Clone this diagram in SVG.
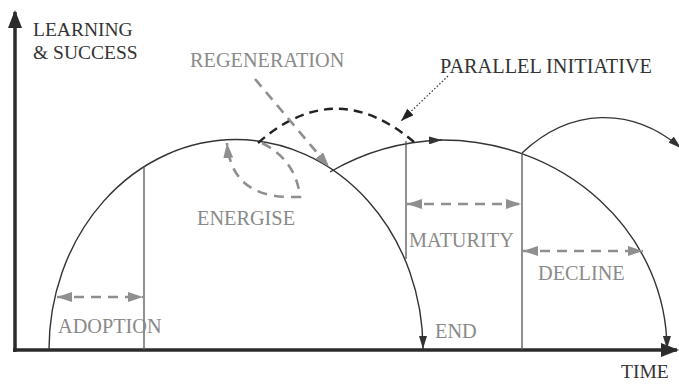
<svg xmlns="http://www.w3.org/2000/svg" width="679" height="384" viewBox="0 0 679 384">
<style>
text{font-family:"Liberation Serif","DejaVu Serif",serif;font-size:20.3px}
.ax{font-size:19.5px}
.dk{fill:#333}
.gy{fill:#8a8a8a}
.axis{stroke:#2b2b2b;stroke-width:3.5;fill:none}
.curve{stroke:#333;stroke-width:1.4;fill:none}
.vline{stroke:#555;stroke-width:1.3;fill:none}
.gdash{stroke:#8f8f8f;stroke-width:2.6;fill:none;stroke-dasharray:10 7}
.kdash{stroke:#222;stroke-width:2.4;fill:none;stroke-dasharray:9 6}
.dot{stroke:#333;stroke-width:1.2;fill:none;stroke-dasharray:1.5 2}
</style>
<defs>
<marker id="axh" markerUnits="userSpaceOnUse" markerWidth="18" markerHeight="14" refX="16" refY="7" orient="auto"><path d="M0,0 L18,7 L0,14 z" fill="#2b2b2b"/></marker>
<marker id="ah" markerUnits="userSpaceOnUse" markerWidth="13" markerHeight="8" refX="13" refY="4" orient="auto"><path d="M0,0 L13,4 L0,8 z" fill="#333"/></marker>
<marker id="gh" markerUnits="userSpaceOnUse" markerWidth="15" markerHeight="10" refX="15" refY="5" orient="auto-start-reverse"><path d="M0,0 L15,5 L0,10 z" fill="#8f8f8f"/></marker>
<marker id="kh" markerUnits="userSpaceOnUse" markerWidth="13" markerHeight="9" refX="13" refY="4.5" orient="auto"><path d="M0,0 L13,4.5 L0,9 z" fill="#222"/></marker>
</defs>

<g id="connectors">
<line class="axis" x1="15" y1="352" x2="15" y2="12" marker-end="url(#axh)"/>
<line class="axis" x1="13" y1="350" x2="677" y2="350" marker-end="url(#axh)"/>
<path class="curve" d="M49,350 A187,210 0 0 1 423,349" marker-end="url(#ah)"/>
<path class="curve" d="M330,172 A225,210 0 0 1 442,140" marker-end="url(#ah)"/>
<path class="curve" d="M440,140 A225,210 0 0 1 667,349" marker-end="url(#ah)"/>
<path class="curve" d="M522,153 A155,232 0 0 1 681,148" marker-end="url(#ah)"/>
<line class="vline" x1="144" y1="166" x2="144" y2="350"/>
<line class="vline" x1="406" y1="141" x2="406" y2="259"/>
<line class="vline" x1="522" y1="153" x2="522" y2="350"/>
<path class="kdash" d="M258,143 Q335,75 414,142"/>
<line class="dot" x1="448" y1="76" x2="401" y2="121" marker-end="url(#kh)"/>
<line class="gdash" x1="255" y1="79" x2="329" y2="167" marker-end="url(#gh)"/>
<path class="gdash" d="M262,143 Q296,160 300,197 L288,197 C250,196 230,178 227,143" marker-end="url(#gh)"/>
<line class="gdash" x1="57" y1="297" x2="143" y2="297" marker-start="url(#gh)" marker-end="url(#gh)"/>
<line class="gdash" x1="407" y1="204" x2="521" y2="204" marker-start="url(#gh)" marker-end="url(#gh)"/>
<line class="gdash" x1="523" y1="251" x2="643" y2="251" marker-start="url(#gh)" marker-end="url(#gh)"/>
</g>

<g id="ylabel"><text class="dk ax" x="33" y="36">LEARNING</text><text class="dk ax" x="33" y="59">&amp; SUCCESS</text></g>
<g id="xlabel"><text class="dk ax" x="621" y="378">TIME</text></g>
<g id="regeneration"><text class="gy" x="190" y="67">REGENERATION</text></g>
<g id="parallel"><text class="dk" x="440" y="73">PARALLEL INITIATIVE</text></g>
<g id="energise"><text class="gy" x="197" y="225">ENERGISE</text></g>
<g id="adoption"><text class="gy" x="58" y="333">ADOPTION</text></g>
<g id="end"><text class="gy" x="435" y="338">END</text></g>
<g id="maturity"><text class="gy" x="409" y="247">MATURITY</text></g>
<g id="decline"><text class="gy" x="538" y="280">DECLINE</text></g>
</svg>
